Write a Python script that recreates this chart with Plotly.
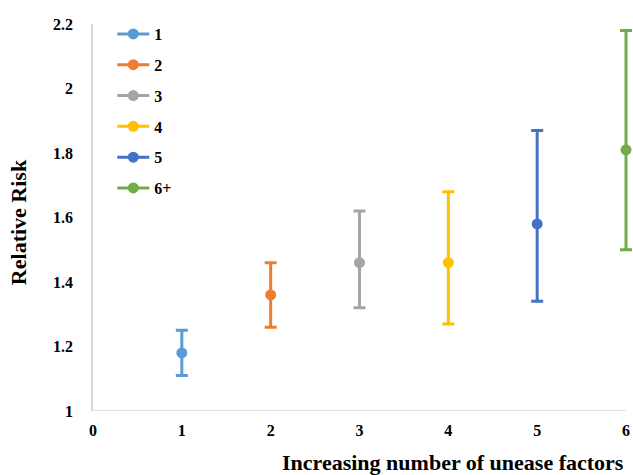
import plotly.graph_objects as go

labels = ["1", "2", "3", "4", "5", "6+"]
x_pos = [1, 2, 3, 4, 5, 6]
rr = [1.18, 1.36, 1.46, 1.46, 1.58, 1.81]
lower = [1.11, 1.26, 1.32, 1.27, 1.34, 1.50]
upper = [1.25, 1.46, 1.62, 1.68, 1.87, 2.18]
colors = ["#5B9BD5", "#ED7D31", "#A5A5A5", "#FFC000", "#4472C4", "#70AD47"]
x_ticks = [0, 1, 2, 3, 4, 5, 6]
y_ticks = [1, 1.2, 1.4, 1.6, 1.8, 2, 2.2]
y_ticktext = ["1", "1.2", "1.4", "1.6", "1.8", "2", "2.2"]

FONT = "Liberation Serif"

fig = go.Figure()
for lab, xv, v, lo, hi, c in zip(labels, x_pos, rr, lower, upper, colors):
    fig.add_trace(go.Scatter(
        x=[xv], y=[v], name=lab, mode="lines+markers", legendgroup=lab,
        cliponaxis=False,
        marker=dict(color=c, size=11),
        line=dict(color=c, width=3),
        error_y=dict(type="data", symmetric=False, array=[hi - v], arrayminus=[v - lo],
                     color=c, thickness=3, width=6),
    ))

fig.update_layout(
    width=633, height=475,
    margin=dict(l=93, r=0, t=24, b=64),
    paper_bgcolor="white", plot_bgcolor="white",
    font=dict(family=FONT, size=16, color="#000000"),
    showlegend=True,
    legend=dict(x=0.0357, y=1.018, xanchor="left", yanchor="top",
                font=dict(family=FONT, size=16, color="#000000", weight="bold"),
                bgcolor="rgba(0,0,0,0)", tracegroupgap=7, itemwidth=32),
    xaxis=dict(range=[0, 6 * 540 / 533], tickvals=x_ticks, showgrid=False, zeroline=False,
               showline=False, ticks="", automargin=False,
               tickfont=dict(family=FONT, size=16, weight="bold"), ticklabelstandoff=8),
    yaxis=dict(range=[1, 2.2], tickvals=y_ticks, ticktext=y_ticktext,
               showgrid=False, zeroline=False, automargin=False,
               showline=True, linecolor="#D9D9D9", linewidth=1.5, ticks="",
               tickfont=dict(family=FONT, size=16, weight="bold"), ticklabelstandoff=15),
    shapes=[dict(type="line", xref="x", yref="y", x0=x_ticks[0], x1=x_ticks[-1],
                 y0=y_ticks[0], y1=y_ticks[0], line=dict(color="#D9D9D9", width=1.5), layer="below")],
    annotations=[
        dict(text="<b>Increasing number of unease factors</b>", xref="x", yref="paper",
             x=x_ticks[-1], y=-0.133, xanchor="right", yanchor="middle", showarrow=False,
             font=dict(family=FONT, size=22, color="#000000")),
        dict(text="<b>Relative Risk</b>", xref="paper", yref="paper",
             x=-0.1389, y=0.488, xanchor="center", yanchor="middle", textangle=-90, showarrow=False,
             font=dict(family=FONT, size=22, color="#000000")),
    ],
)

fig.write_html("out.html", config={"displayModeBar": False},
               post_script="document.body.style.margin='0px';document.body.style.overflow='hidden';")
